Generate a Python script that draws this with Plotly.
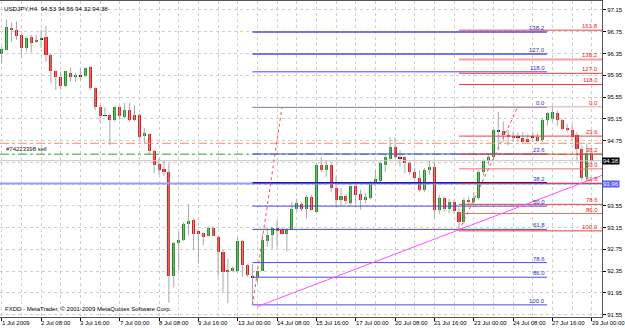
import plotly.graph_objects as go

# ---------------- data (USDJPY H4, bar index 0 = 1 Jul 2009 00:00) ----------------
opens = [96.34, 96.41, 96.82, 96.79, 96.69, 96.45, 96.65, 96.56, 96.61, 96.65,
         96.32, 96.03, 95.91, 95.75, 95.99, 95.91, 95.94, 95.93, 96.11, 95.72,
         95.37, 95.22, 95.22, 95.12, 95.36, 95.19, 95.31, 95.22, 95.22, 94.85,
         94.87, 94.55, 94.32, 94.23, 94.17, 92.26, 92.87, 92.93, 93.22, 93.29,
         93.08, 93.06, 92.99, 93.14, 92.98, 92.71, 92.37, 92.35, 92.36, 92.91,
         92.46, 92.27, 92.25, 92.36, 92.91, 93.01, 93.15, 93.11, 93.04, 93.11,
         93.50, 93.58, 93.50, 93.72, 93.43, 94.31, 94.21, 94.31, 93.87, 93.66,
         93.73, 93.60, 93.91, 93.77, 93.66, 93.69, 93.95, 94.01, 94.30, 94.42,
         94.64, 94.44, 94.44, 94.33, 94.18, 94.07, 93.84, 94.21, 94.27, 93.47,
         93.70, 93.50, 93.62, 93.44, 93.26, 93.66, 93.62, 93.70, 94.18, 94.37,
         94.44, 94.94, 94.93, 94.86, 94.84, 94.82, 94.80, 94.78, 94.82, 94.81,
         94.76, 95.13, 95.15, 95.25, 95.13, 94.98, 94.95, 94.86, 94.60, 94.08,
         94.53]
highs = [96.48, 96.97, 96.92, 96.94, 96.72, 96.66, 96.69, 96.69, 96.78, 96.86,
         96.35, 96.05, 96.02, 96.03, 96.09, 95.99, 96.08, 96.09, 96.12, 95.73,
         95.40, 95.36, 95.25, 95.38, 95.38, 95.44, 95.44, 95.40, 95.24, 94.98,
         94.88, 94.58, 94.42, 94.38, 94.33, 92.89, 93.07, 93.25, 93.58, 93.32,
         93.08, 93.06, 93.18, 93.17, 93.00, 92.74, 92.58, 92.44, 92.97, 92.93,
         92.48, 92.48, 92.38, 93.04, 93.14, 93.16, 93.29, 93.15, 93.14, 93.62,
         93.68, 93.62, 93.75, 93.75, 94.34, 94.45, 94.39, 94.34, 94.09, 93.87,
         93.77, 93.96, 93.96, 93.85, 93.78, 94.00, 94.21, 94.36, 94.48, 94.81,
         94.81, 94.57, 94.46, 94.36, 94.24, 94.20, 94.25, 94.38, 94.36, 93.75,
         93.72, 93.68, 93.66, 93.52, 93.70, 93.72, 93.80, 94.21, 94.40, 94.48,
         94.97, 95.28, 95.10, 94.95, 94.92, 94.90, 94.90, 94.86, 94.90, 94.88,
         95.16, 95.28, 95.37, 95.30, 95.16, 95.05, 95.05, 94.90, 94.66, 94.70,
         94.56]
lows = [96.17, 96.40, 96.57, 96.60, 96.26, 96.38, 96.37, 96.54, 96.45, 96.20,
        95.80, 95.68, 95.68, 95.74, 95.83, 95.83, 95.86, 95.92, 95.68, 95.31,
        95.08, 95.18, 94.67, 95.10, 95.13, 95.16, 95.09, 95.11, 94.78, 94.70,
        94.49, 94.15, 94.12, 94.10, 91.77, 92.05, 92.36, 92.90, 93.01, 92.74,
        92.49, 92.83, 92.98, 92.99, 92.25, 91.97, 91.76, 92.33, 92.33, 92.25,
        92.24, 91.73, 92.13, 92.35, 92.80, 92.76, 92.80, 93.02, 92.71, 93.10,
        93.45, 93.45, 93.32, 93.46, 93.42, 94.18, 94.08, 93.80, 93.53, 93.55,
        93.58, 93.57, 93.58, 93.48, 93.60, 93.67, 93.91, 93.99, 94.17, 94.40,
        94.42, 94.27, 94.15, 94.12, 94.02, 93.80, 93.80, 94.12, 93.33, 93.40,
        93.45, 93.42, 93.40, 93.09, 93.22, 93.55, 93.58, 93.66, 94.10, 94.30,
        94.40, 94.58, 94.73, 94.66, 94.73, 94.73, 94.72, 94.74, 94.72, 94.72,
        94.72, 95.03, 95.10, 95.02, 94.94, 94.90, 94.76, 94.38, 94.00, 94.03,
        94.32]
closes = [96.43, 96.84, 96.78, 96.67, 96.45, 96.64, 96.55, 96.60, 96.63, 96.32,
          96.02, 95.92, 95.75, 96.02, 95.91, 95.96, 95.93, 96.08, 95.71, 95.37,
          95.20, 95.21, 95.13, 95.36, 95.20, 95.31, 95.13, 95.13, 94.82, 94.88,
          94.55, 94.30, 94.20, 94.17, 92.26, 92.87, 92.93, 93.22, 93.28, 93.04,
          93.03, 92.97, 93.14, 93.00, 92.71, 92.34, 92.34, 92.40, 92.91, 92.47,
          92.27, 92.25, 92.36, 92.92, 93.02, 93.15, 93.09, 93.04, 93.12, 93.50,
          93.60, 93.50, 93.72, 93.48, 94.30, 94.21, 94.31, 93.87, 93.66, 93.73,
          93.64, 93.91, 93.75, 93.66, 93.71, 93.95, 94.04, 94.34, 94.45, 94.64,
          94.44, 94.43, 94.33, 94.18, 94.07, 93.84, 94.21, 94.27, 93.47, 93.70,
          93.50, 93.62, 93.45, 93.26, 93.66, 93.62, 93.70, 94.18, 94.37, 94.44,
          94.94, 94.93, 94.86, 94.82, 94.80, 94.81, 94.73, 94.72, 94.81, 94.74,
          95.13, 95.25, 95.27, 95.13, 94.97, 94.94, 94.82, 94.60, 94.06, 94.53,
          94.38]

tick_bars = [0, 8, 16, 24, 32, 40, 48, 56, 64, 72, 80, 88, 96, 104, 112, 120]
tick_labels = ["1 Jul 2009", "2 Jul 08:00", "3 Jul 16:00", "7 Jul 00:00", "8 Jul 08:00",
               "9 Jul 16:00", "13 Jul 00:00", "14 Jul 08:00", "15 Jul 16:00", "17 Jul 00:00",
               "20 Jul 08:00", "21 Jul 16:00", "23 Jul 00:00", "24 Jul 08:00", "27 Jul 16:00",
               "29 Jul 00:00"]
price_ticks = [97.15, 96.75, 96.35, 95.95, 95.55, 95.15, 94.75, 94.35, 93.95,
               93.55, 93.15, 92.75, 92.35, 91.95, 91.55]
hidden_price_ticks = [94.35, 93.95]

fib_levels = [0.0, 23.6, 38.2, 50.0, 61.8, 78.6, 86.0, 100.0, 118.0, 127.0, 138.2]
fib_red_levels = [0.0, 23.6, 38.2, 50.0, 61.8, 78.6, 86.0, 100.0, 118.0, 127.0, 138.2, 161.8]
fib_blue_anchor = {"bar_low": 51, "low": 91.73, "bar_high": 57, "high": 95.36, "end_bar": 110.9}
fib_red_anchor = {"bar_low": 93, "low": 93.09, "bar_high": 105, "high": 95.37}
trend_pts = {"bar0": 52, "p0": 91.70, "bar1": 93, "p1": 93.11}

line_orange = 94.70
line_green = 94.50
line_bid = 94.38
line_blue = 93.96

# ---------------- figure ----------------
n = len(opens)
bars = list(range(n))
X0, X1 = -0.35, 122.09
Y0, Y1 = 91.507, 97.315
FONT = "Liberation Sans"
FS = 6.0

wx, wy = [], []
for b in bars:
    wx += [b, b, None]
    wy += [lows[b], highs[b], None]

body_base, body_h, body_col = [], [], []
for b in bars:
    o, c = opens[b], closes[b]
    d = abs(c - o)
    if d < 0.025:
        body_base.append(min(o, c) - 0.008)
        body_h.append(max(d, 0.016))
        body_col.append("#202020")
    else:
        body_base.append(min(o, c))
        body_h.append(d)
        body_col.append("#12961a" if c > o else "#f01414")

fig = go.Figure()
fig.add_trace(go.Scatter(x=wx, y=wy, mode="lines", line=dict(color="#a8a8a8", width=1),
                         hoverinfo="skip", showlegend=False))
fig.add_trace(go.Bar(x=bars, y=body_h, base=body_base, width=0.62,
                     marker=dict(color=body_col, line=dict(width=0)), showlegend=False))

shapes = []
def hline(p, color, width=1, dash="solid", x0=X0, x1=X1):
    shapes.append(dict(type="line", xref="x", yref="y", x0=x0, x1=x1, y0=p, y1=p,
                       line=dict(color=color, width=width, dash=dash), layer="above"))

hline(line_blue, "#9a9aff", 2)
hline(line_orange, "#ff8a5c", 1, "dashdot")
hline(line_green, "#33a033", 1, "dashdot")
hline(line_bid, "#c4c4c4", 1)

ann = []
# blue fib
fb = fib_blue_anchor
rng_b = fb["high"] - fb["low"]
for L in fib_levels:
    p = fb["high"] - L / 100 * rng_b if L <= 100 else fb["high"] + (L - 100) / 100 * rng_b
    col = "#1c1ca6" if L == 38.2 else ("#7a7a96" if L == 0 else "#4a4ae8")
    w = 1.5 if L in (127.0, 138.2, 38.2) else 1
    hline(p, col, w, x0=fb["bar_low"], x1=fb["end_bar"])
    ann.append(dict(x=fb["end_bar"], y=p, xref="x", yref="y", text=f"{L:.1f}", showarrow=False,
                    xanchor="right", yanchor="bottom", yshift=-1,
                    font=dict(family=FONT, size=FS, color="#3030c8")))
shapes.append(dict(type="line", xref="x", yref="y", x0=fb["bar_low"], y0=fb["low"],
                   x1=fb["bar_high"], y1=fb["high"], line=dict(color="#f05050", width=1, dash="dot")))
# red fib
fr = fib_red_anchor
rng_r = fr["high"] - fr["low"]
for L in fib_red_levels:
    p = fr["high"] - L / 100 * rng_r if L <= 100 else fr["high"] + (L - 100) / 100 * rng_r
    if L == 138.2:
        col, w = "#f4a0a0", 2
    elif L == 0:
        col, w = "#d8a8a8", 1
    elif L in (50.0, 86.0):
        col, w = "#f07070", 1
    else:
        col, w = "#f03c3c", 1
    hline(p, col, w, x0=fr["bar_low"], x1=X1)
    ann.append(dict(x=0.9975, y=p, xref="paper", yref="y", text=f"{L:.1f}", showarrow=False,
                    xanchor="right", yanchor="bottom", yshift=-1,
                    font=dict(family=FONT, size=FS, color="#f02020")))
shapes.append(dict(type="line", xref="x", yref="y", x0=fr["bar_low"], y0=fr["low"],
                   x1=fr["bar_high"], y1=fr["high"], line=dict(color="#f05050", width=1, dash="dot")))
# trend line (ray)
t = trend_pts
slope = (t["p1"] - t["p0"]) / (t["bar1"] - t["bar0"])
shapes.append(dict(type="line", xref="x", yref="y", x0=t["bar0"], y0=t["p0"],
                   x1=X1, y1=t["p0"] + slope * (X1 - t["bar0"]),
                   line=dict(color="#ff50ff", width=1)))

# x tick labels
for b, lab in zip(tick_bars, tick_labels):
    ann.append(dict(x=b, y=0, xref="x", yref="paper", text=lab, showarrow=False,
                    xanchor="left", yanchor="top", xshift=-2, yshift=-1,
                    font=dict(family=FONT, size=FS, color="#000000")))
# price boxes
ann.append(dict(x=1, y=line_bid, xref="paper", yref="y", text=f"{closes[-1]:.2f}", showarrow=False,
                xanchor="left", yanchor="middle", bgcolor="#000000", borderpad=0,
                font=dict(family=FONT, size=FS, color="#ffffff")))
ann.append(dict(x=1, y=line_blue, xref="paper", yref="y", text=f"{line_blue:.2f}", showarrow=False,
                xanchor="left", yanchor="middle", bgcolor="#5a5aff", borderpad=0,
                font=dict(family=FONT, size=FS, color="#ffffff")))
# texts
ann.append(dict(x=0.004, y=0.993, xref="paper", yref="paper",
                text=f"USDJPY,H4  {opens[-1]:.2f} {highs[-1]:.2f} {lows[-1]:.2f} {closes[-1]:.2f}",
                showarrow=False, xanchor="left", yanchor="top",
                font=dict(family=FONT, size=FS + 0.2, color="#000000")))
ann.append(dict(x=0.005, y=0.01, xref="paper", yref="paper",
                text="FXDD - MetaTrader, © 2001-2009 MetaQuotes Software Corp.",
                showarrow=False, xanchor="left", yanchor="bottom",
                font=dict(family=FONT, size=FS, color="#000000")))
ann.append(dict(x=0.006, y=line_green, xref="paper", yref="y", text="#74223398 sell",
                showarrow=False, xanchor="left", yanchor="bottom", yshift=0,
                font=dict(family=FONT, size=FS, color="#202020")))

ticktext = ["" if p in hidden_price_ticks else f"{p:.2f}" for p in price_ticks]

fig.update_layout(
    width=625, height=328, margin=dict(l=0, r=23, t=1, b=11),
    paper_bgcolor="#ffffff", plot_bgcolor="#ffffff", showlegend=False,
    shapes=shapes, annotations=ann, bargap=0,
    xaxis=dict(range=[X0, X1], tickvals=tick_bars, ticktext=[""] * len(tick_bars),
               ticks="outside", ticklen=3, tickcolor="#000000", showticklabels=False,
               showgrid=True, gridcolor="#cfcfcf", griddash="3px,3px", gridwidth=1,
               minor=dict(tickvals=[b + 4 for b in tick_bars], showgrid=True,
                          gridcolor="#cfcfcf", griddash="3px,3px", ticks=""),
               showline=True, linecolor="#555555", linewidth=1, mirror=True,
               zeroline=False, fixedrange=True),
    yaxis=dict(range=[Y0, Y1], side="right", tickvals=price_ticks, ticktext=ticktext,
               ticks="outside", ticklen=3, tickcolor="#000000",
               tickfont=dict(family=FONT, size=FS, color="#000000"),
               showgrid=True, gridcolor="#cfcfcf", griddash="3px,3px", gridwidth=1,
               showline=True, linecolor="#555555", linewidth=1, mirror=True,
               zeroline=False, fixedrange=True),
)

fig.write_html("out.html")
